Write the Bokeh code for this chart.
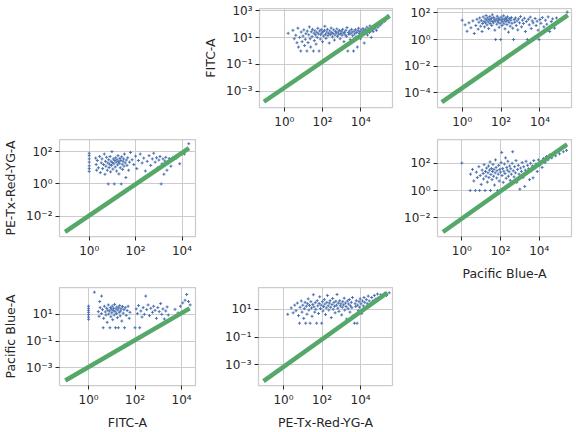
import numpy as np
from bokeh.plotting import figure
from bokeh.models import Range1d, FixedTicker, CustomJSTickFormatter, Spacer
from bokeh.layouts import row, column
from bokeh.embed import file_html
from bokeh.resources import INLINE

# ---------------- data (values given as log10) ----------------
channels = ["FITC-A", "PE-Tx-Red-YG-A", "Pacific Blue-A"]

# row FITC-A, column PE-Tx-Red-YG-A  (x = PE-Tx, y = FITC)
fitc_vs_pe = [(0.20,1.33),(0.45,1.55),(0.52,0.92),(0.60,1.18),(0.66,0.62),(0.71,1.71),(0.74,0.30),(0.80,1.02),(0.86,0.00),(0.88,1.42),(0.93,0.70),(0.98,1.12),(1.02,1.58),(1.06,0.41),(1.10,0.88),(1.13,1.30),(1.18,0.00),(1.20,1.49),(1.24,0.63),(1.28,1.21),(1.31,1.80),(1.35,0.92),(1.38,0.30),(1.41,1.44),(1.45,1.08),(1.47,1.62),(1.52,0.00),(1.55,1.33),(1.57,0.78),(1.60,1.52),(1.63,1.20),(1.66,0.52),(1.70,1.40),(1.72,1.02),(1.75,1.70),(1.78,1.28),(1.82,0.00),(1.85,1.50),(1.88,0.90),(1.90,1.22),(1.93,1.60),(1.96,1.35),(2.00,0.70),(2.03,1.45),(2.06,1.12),(2.10,1.55),(2.12,1.85),(2.15,1.25),(2.18,0.95),(2.22,1.42),(2.25,1.62),(2.28,1.15),(2.32,1.32),(2.35,0.60),(2.38,1.50),(2.42,1.22),(2.45,1.72),(2.48,1.38),(2.52,1.05),(2.55,1.30),(2.58,1.58),(2.62,0.82),(2.65,1.20),(2.68,1.45),(2.72,1.35),(2.75,1.65),(2.78,1.10),(2.82,1.42),(2.85,1.25),(2.88,1.55),(2.92,0.92),(2.95,1.30),(2.98,1.48),(3.02,1.18),(3.05,1.62),(3.08,1.35),(3.12,0.70),(3.15,1.40),(3.18,1.22),(3.22,1.55),(3.25,1.10),(3.28,1.75),(3.32,0.00),(3.35,1.38),(3.38,1.25),(3.42,1.50),(3.45,0.85),(3.48,1.30),(3.52,1.62),(3.55,1.42),(3.58,1.15),(3.62,0.00),(3.65,1.48),(3.68,1.28),(3.72,1.60),(3.75,1.05),(3.78,1.38),(3.82,0.30),(3.85,1.52),(3.88,1.70),(3.92,1.32),(3.95,1.45),(3.98,0.92),(4.02,1.58),(4.05,1.25),(4.08,1.40),(4.12,1.68),(4.15,1.50),(4.18,0.60),(4.22,1.35),(4.25,1.60),(4.28,1.45),(4.32,1.78),(4.35,1.20),(4.38,1.55),(4.42,1.65),(4.45,1.38),(4.48,1.88),(4.52,1.50),(4.55,1.02),(4.58,1.72),(4.62,1.60),(4.65,1.45),(4.70,1.85),(4.74,1.68),(4.78,1.95),(4.82,1.55),(4.86,2.02),(4.90,1.78),(4.95,2.10),(5.00,1.92),(5.05,2.18),(5.10,2.05),(5.18,2.30),(5.25,2.22),(5.32,2.45),(5.40,2.62)]

# row FITC-A, column Pacific Blue-A
fitc_vs_pb = [(0.00,1.45),(0.15,1.10),(0.25,0.62),(0.35,1.25),(0.45,0.88),(0.55,1.40),(0.62,0.45),(0.70,1.05),(0.76,1.52),(0.82,0.78),(0.86,1.30),(0.90,1.62),(0.95,1.00),(0.98,1.42),(1.02,0.60),(1.05,1.20),(1.08,1.70),(1.12,1.35),(1.15,0.95),(1.18,1.55),(1.20,1.25),(1.23,1.80),(1.26,1.45),(1.28,1.10),(1.31,1.62),(1.34,1.32),(1.36,0.82),(1.39,1.50),(1.42,1.72),(1.44,1.20),(1.47,1.40),(1.50,1.58),(1.52,1.05),(1.55,1.85),(1.57,1.35),(1.60,1.25),(1.62,1.65),(1.65,1.48),(1.68,0.70),(1.70,1.38),(1.72,0.00),(1.75,1.55),(1.78,1.15),(1.80,1.75),(1.83,1.42),(1.85,1.30),(1.88,1.60),(1.90,0.92),(1.93,1.50),(1.95,1.22),(1.98,0.00),(2.00,1.68),(2.03,1.40),(2.05,1.05),(2.08,1.55),(2.10,1.32),(2.13,1.78),(2.15,1.18),(2.18,1.48),(2.20,0.80),(2.23,1.62),(2.25,1.35),(2.28,1.52),(2.30,1.12),(2.33,1.70),(2.36,1.42),(2.38,0.55),(2.41,1.28),(2.44,1.58),(2.47,1.00),(2.50,1.45),(2.53,1.65),(2.56,1.22),(2.60,0.85),(2.64,0.00),(2.67,1.50),(2.70,1.30),(2.74,1.62),(2.78,1.05),(2.82,1.40),(2.86,0.72),(2.90,1.55),(2.95,1.25),(3.00,1.72),(3.05,0.95),(3.10,1.45),(3.15,1.20),(3.20,1.60),(3.25,0.60),(3.30,1.35),(3.35,0.00),(3.40,1.52),(3.45,1.10),(3.50,1.68),(3.55,0.82),(3.60,1.40),(3.65,1.25),(3.70,0.00),(3.75,1.58),(3.80,1.05),(3.85,1.38),(3.90,0.70),(3.95,0.00),(4.00,1.50),(4.05,1.22),(4.12,1.65),(4.20,0.95),(4.28,1.45),(4.35,1.15),(4.42,1.70),(4.50,0.60),(4.58,1.35),(4.65,1.55),(4.75,0.85),(4.85,1.62),(5.40,2.06)]

# row PE-Tx-Red-YG-A, column FITC-A
pe_vs_fitc = [(0.00,1.90),(0.00,1.75),(0.00,1.55),(0.00,1.35),(0.00,1.12),(0.00,0.95),(0.00,0.78),(0.28,1.60),(0.30,1.20),(0.32,0.85),(0.35,1.45),(0.40,1.00),(0.45,1.70),(0.48,0.70),(0.52,1.30),(0.55,1.55),(0.58,0.95),(0.62,1.20),(0.65,1.85),(0.68,0.60),(0.70,1.40),(0.72,1.10),(0.75,1.65),(0.78,0.85),(0.80,1.30),(0.82,0.00),(0.84,1.50),(0.86,1.02),(0.88,1.22),(0.90,1.70),(0.92,0.75),(0.94,1.40),(0.96,1.15),(0.98,2.00),(1.00,1.32),(1.02,0.92),(1.04,1.55),(1.06,1.25),(1.08,0.00),(1.10,1.45),(1.12,1.05),(1.14,1.62),(1.16,1.35),(1.18,0.80),(1.20,1.50),(1.22,1.18),(1.24,1.75),(1.26,1.38),(1.28,0.62),(1.30,1.28),(1.32,1.58),(1.34,1.00),(1.36,1.45),(1.38,0.00),(1.40,1.68),(1.42,1.22),(1.44,0.90),(1.46,1.40),(1.48,1.55),(1.50,1.10),(1.52,1.85),(1.55,1.30),(1.58,0.40),(1.60,1.48),(1.63,1.15),(1.66,1.62),(1.70,0.85),(1.74,1.35),(1.78,1.95),(1.85,1.50),(1.92,1.20),(2.00,1.72),(2.05,0.95),(2.12,1.45),(2.20,1.85),(2.28,1.30),(2.35,1.60),(2.42,0.80),(2.50,1.40),(2.58,1.75),(2.65,1.15),(2.72,1.55),(2.78,1.90),(2.84,1.35),(2.90,1.62),(2.95,1.00),(3.00,1.48),(3.05,1.70),(3.10,0.00),(3.14,1.25),(3.18,1.55),(3.22,0.60),(3.26,1.42),(3.30,1.65),(3.35,0.85),(3.40,1.30),(3.45,1.58),(3.52,1.10),(3.60,1.62),(3.75,1.60),(3.90,1.25),(4.10,1.85),(4.29,2.49)]

# row PE-Tx-Red-YG-A, column Pacific Blue-A
pe_vs_pb = [(0.00,2.02),(0.43,0.00),(0.45,1.20),(0.55,1.55),(0.62,0.70),(0.70,0.00),(0.75,1.35),(0.80,0.95),(0.88,1.75),(0.92,0.00),(0.95,1.10),(1.00,0.45),(1.05,1.50),(1.10,1.25),(1.12,0.85),(1.15,1.90),(1.20,0.00),(1.22,1.40),(1.25,1.05),(1.28,1.65),(1.32,0.62),(1.35,1.30),(1.38,1.80),(1.40,0.95),(1.43,1.50),(1.46,2.10),(1.48,0.00),(1.50,1.18),(1.53,1.62),(1.56,0.80),(1.58,1.40),(1.61,1.92),(1.64,1.05),(1.66,1.55),(1.69,0.40),(1.72,1.30),(1.74,2.25),(1.77,1.70),(1.80,0.92),(1.82,1.45),(1.85,0.00),(1.88,1.20),(1.90,1.85),(1.93,0.70),(1.96,1.55),(1.98,0.00),(2.00,1.35),(2.03,2.05),(2.06,2.80),(2.08,1.10),(2.11,1.62),(2.14,0.60),(2.17,1.42),(2.20,1.95),(2.23,1.25),(2.26,2.40),(2.29,0.90),(2.32,1.70),(2.35,1.50),(2.38,2.15),(2.41,1.05),(2.44,1.38),(2.47,1.80),(2.50,0.75),(2.53,1.60),(2.56,1.20),(2.60,2.00),(2.63,2.85),(2.66,1.45),(2.70,1.00),(2.73,1.75),(2.77,1.30),(2.80,2.20),(2.84,0.60),(2.88,1.55),(2.92,1.85),(2.96,1.20),(3.00,0.10),(3.04,1.65),(3.08,1.40),(3.12,2.05),(3.16,0.95),(3.20,1.75),(3.25,0.30),(3.28,1.50),(3.32,2.15),(3.36,1.25),(3.40,1.85),(3.45,1.60),(3.50,0.80),(3.55,2.00),(3.60,1.45),(3.65,1.80),(3.68,0.93),(3.72,2.20),(3.78,1.65),(3.84,1.95),(3.90,1.40),(3.96,2.25),(4.02,1.85),(4.08,2.10),(4.15,1.70),(4.22,2.35),(4.30,2.05),(4.38,2.50),(4.45,2.25),(4.55,2.62),(4.65,2.40),(4.75,2.75),(4.85,2.55),(4.95,2.90),(5.05,2.70),(5.15,3.05),(5.25,2.85),(5.35,3.20),(5.41,2.95)]

# row Pacific Blue-A, column FITC-A
pb_vs_fitc = [(0.00,1.61),(0.00,1.45),(0.00,1.30),(0.00,1.15),(0.00,0.98),(0.00,0.80),(0.00,0.63),(0.25,2.65),(0.56,2.36),(0.48,1.95),(0.42,1.20),(0.45,0.85),(0.50,1.50),(0.55,1.05),(0.60,1.35),(0.63,0.00),(0.65,0.70),(0.68,1.60),(0.72,1.18),(0.75,0.95),(0.78,1.45),(0.80,0.40),(0.83,1.30),(0.85,1.70),(0.87,1.02),(0.90,1.25),(0.92,0.00),(0.94,1.50),(0.96,0.82),(0.98,1.38),(1.00,1.12),(1.02,1.62),(1.04,0.60),(1.06,1.28),(1.08,1.45),(1.10,0.95),(1.12,1.74),(1.14,1.20),(1.16,0.00),(1.18,1.40),(1.20,1.05),(1.22,1.55),(1.24,0.75),(1.26,1.32),(1.28,0.00),(1.30,1.48),(1.32,1.15),(1.34,1.65),(1.36,0.88),(1.38,1.25),(1.40,1.42),(1.43,0.50),(1.46,1.58),(1.49,1.08),(1.52,1.35),(1.55,0.00),(1.58,1.50),(1.62,0.92),(1.66,1.28),(1.70,1.60),(1.75,0.70),(1.78,1.15),(2.00,0.00),(2.05,1.40),(2.10,1.05),(2.15,1.65),(2.20,0.00),(2.25,1.25),(2.30,0.80),(2.35,1.50),(2.40,1.00),(2.46,2.36),(2.50,1.35),(2.56,1.70),(2.62,0.90),(2.68,1.45),(2.75,1.15),(2.80,1.60),(2.86,1.30),(2.92,0.70),(2.98,1.50),(3.04,1.20),(3.10,1.80),(3.15,1.00),(3.20,1.40),(3.26,0.65),(3.32,1.25),(3.38,1.55),(3.43,0.95),(3.72,1.37),(3.85,1.10),(3.95,1.60),(4.05,1.85),(4.15,2.05),(4.22,2.48),(4.30,1.95),(4.37,1.70)]

# row Pacific Blue-A, column PE-Tx-Red-YG-A
pb_vs_pe = [(0.22,0.64),(0.40,1.10),(0.50,0.75),(0.58,1.30),(0.65,0.90),(0.72,1.45),(0.78,0.55),(0.83,0.00),(0.86,1.15),(0.92,1.60),(0.96,0.80),(1.00,1.30),(1.05,0.35),(1.08,1.05),(1.12,1.50),(1.15,0.00),(1.18,1.22),(1.22,0.65),(1.25,1.40),(1.28,1.75),(1.32,0.95),(1.35,1.28),(1.38,0.00),(1.42,1.55),(1.45,1.10),(1.48,0.50),(1.52,1.35),(1.55,2.05),(1.58,1.18),(1.62,0.80),(1.65,1.48),(1.68,1.00),(1.72,0.00),(1.75,1.62),(1.78,1.25),(1.82,0.70),(1.85,1.42),(1.88,1.90),(1.92,1.05),(1.95,1.30),(1.98,0.00),(2.02,1.55),(2.05,0.88),(2.08,1.20),(2.12,1.70),(2.15,1.38),(2.18,0.62),(2.22,1.10),(2.25,1.50),(2.28,2.00),(2.32,1.25),(2.35,0.95),(2.38,1.45),(2.42,1.62),(2.45,1.15),(2.48,0.40),(2.52,1.35),(2.55,1.78),(2.58,1.00),(2.62,1.50),(2.65,1.22),(2.68,0.75),(2.72,1.58),(2.75,1.30),(2.78,2.07),(2.82,1.08),(2.85,1.45),(2.88,0.85),(2.92,1.62),(2.95,1.25),(2.98,1.40),(3.02,0.60),(3.05,1.15),(3.08,1.55),(3.12,1.32),(3.15,1.80),(3.18,0.95),(3.22,1.45),(3.25,1.20),(3.28,0.30),(3.32,1.60),(3.35,1.05),(3.38,1.38),(3.42,1.70),(3.45,0.80),(3.48,1.25),(3.52,1.50),(3.55,1.12),(3.58,1.85),(3.62,0.55),(3.68,0.00),(3.72,1.40),(3.75,1.20),(3.78,1.62),(3.82,0.00),(3.85,1.30),(3.88,0.90),(3.92,1.55),(3.95,1.15),(3.98,1.75),(4.02,1.40),(4.06,0.70),(4.10,1.60),(4.14,1.25),(4.18,1.85),(4.22,1.50),(4.26,1.05),(4.30,1.70),(4.35,1.40),(4.40,1.95),(4.45,1.60),(4.52,1.30),(4.58,1.85),(4.65,1.62),(4.72,2.00),(4.80,1.75),(4.88,2.10),(4.95,1.85),(5.05,2.05),(5.15,1.90),(5.25,2.15),(5.35,2.00),(5.49,2.19)]

# green reference lines (log10 endpoints)
line_fitc_vs_pe = [(-1.07, -3.79), (5.51, 2.63)]
line_fitc_vs_pb = [(-1.05, -4.70), (5.43, 1.83)]
line_pe_vs_fitc = [(-1.04, -2.96), (4.30, 2.22)]
line_pe_vs_pb = [(-0.98, -3.05), (5.44, 3.40)]
line_pb_vs_fitc = [(-1.00, -3.94), (4.35, 1.44)]
line_pb_vs_pe = [(-1.04, -4.17), (5.39, 2.19)]

# tick values
x_ticks = [1, 1e2, 1e4]
yticks_fitc_pe = [1e-3, 1e-1, 1e1, 1e3]
yticks_fitc_pb = [1e-4, 1e-2, 1, 1e2]
yticks_pe = [1e-2, 1, 1e2]
yticks_pb = [1e-3, 1e-1, 1e1]

# ---------------- styling ----------------
BLUE = "#4c72b0"
GREEN = "#55a868"
GRID = "#cccccc"
TXT = "#262626"
FONT = "DejaVu Sans"

fmt_code = r"""
const e = Math.round(Math.log10(tick));
const m = {"-":"\u207b","0":"\u2070","1":"\u00b9","2":"\u00b2","3":"\u00b3","4":"\u2074","5":"\u2075","6":"\u2076","7":"\u2077","8":"\u2078","9":"\u2079"};
return "10" + String(e).split("").map(c => m[c]).join("");
"""


def panel(pts, line, xr, yr, yticks, w, h, borders, xlabel=None, ylabel=None):
    bl, br, bt, bb = borders
    p = figure(width=w, height=h, x_axis_type="log", y_axis_type="log",
               x_range=Range1d(10 ** xr[0], 10 ** xr[1]),
               y_range=Range1d(10 ** yr[0], 10 ** yr[1]),
               output_backend="svg", toolbar_location=None,
               min_border_left=bl, min_border_right=br,
               min_border_top=bt, min_border_bottom=bb)
    p.outline_line_color = GRID
    p.outline_line_width = 1.25
    p.background_fill_color = "white"
    p.border_fill_color = "white"
    lx = np.array([a for a, b in pts])
    ly = np.array([b for a, b in pts])
    p.scatter(10 ** lx, 10 ** ly, marker="cross", size=3,
              line_color=BLUE, line_width=1)
    p.line([10 ** line[0][0], 10 ** line[1][0]],
           [10 ** line[0][1], 10 ** line[1][1]],
           line_color=GREEN, line_width=4.5)
    xt = FixedTicker(ticks=x_ticks)
    yt = FixedTicker(ticks=yticks)
    p.xaxis.ticker = xt
    p.yaxis.ticker = yt
    p.xgrid.ticker = xt
    p.ygrid.ticker = yt
    for ax in (p.xaxis[0], p.yaxis[0]):
        ax.formatter = CustomJSTickFormatter(code=fmt_code)
        ax.axis_line_color = None
        ax.major_tick_line_color = TXT
        ax.major_tick_out = 4
        ax.major_tick_in = 0
        ax.minor_tick_line_color = None
        ax.major_label_text_font = FONT
        ax.major_label_text_font_size = "12px"
        ax.major_label_text_color = TXT
        ax.major_label_standoff = 3
        ax.axis_label_text_font = FONT
        ax.axis_label_text_font_size = "12.5px"
        ax.axis_label_text_font_style = "normal"
        ax.axis_label_text_color = TXT
        ax.axis_label_standoff = 5
    if xlabel:
        p.xaxis.axis_label = xlabel
    if ylabel:
        p.yaxis.axis_label = ylabel
    for g in (p.xgrid[0], p.ygrid[0]):
        g.grid_line_color = GRID
        g.grid_line_width = 1
    return p


# column widths and row heights
W0, W1, W2 = 200, 200, 176
H0, H1, H2 = 133, 150, 149
B_COL = [(59, 5), (58, 8), (37, 5)]
B_ROW = [(8, 26), (6, 46), (4, 46)]

pA = panel(fitc_vs_pe, line_fitc_vs_pe, (-1.30, 5.66), (-4.22, 3.18), yticks_fitc_pe,
           W1, H0, B_COL[1] + B_ROW[0], ylabel=channels[0])
pB = panel(fitc_vs_pb, line_fitc_vs_pb, (-1.27, 5.62), (-5.11, 2.33), yticks_fitc_pb,
           W2, H0, B_COL[2] + B_ROW[0])
pC = panel(pe_vs_fitc, line_pe_vs_fitc, (-1.28, 4.58), (-3.25, 2.75), yticks_pe,
           W0, H1, B_COL[0] + B_ROW[1], ylabel=channels[1])
pD = panel(pe_vs_pb, line_pe_vs_pb, (-1.26, 5.67), (-3.38, 3.75), yticks_pe,
           W2, H1, B_COL[2] + B_ROW[1], xlabel=channels[2])
pE = panel(pb_vs_fitc, line_pb_vs_fitc, (-1.25, 4.60), (-4.31, 3.00), yticks_pb,
           W0, H2, B_COL[0] + B_ROW[2], xlabel=channels[0], ylabel=channels[2])
pF = panel(pb_vs_pe, line_pb_vs_pe, (-1.30, 5.66), (-4.48, 2.57), yticks_pb,
           W1, H2, B_COL[1] + B_ROW[2], xlabel=channels[1])

layout = column(
    row(Spacer(width=W0, height=H0), pA, pB),
    row(pC, Spacer(width=W1, height=H1), pD),
    row(pE, pF, Spacer(width=W2, height=H2)),
)

open("out.html", "w").write(file_html(layout, INLINE))
